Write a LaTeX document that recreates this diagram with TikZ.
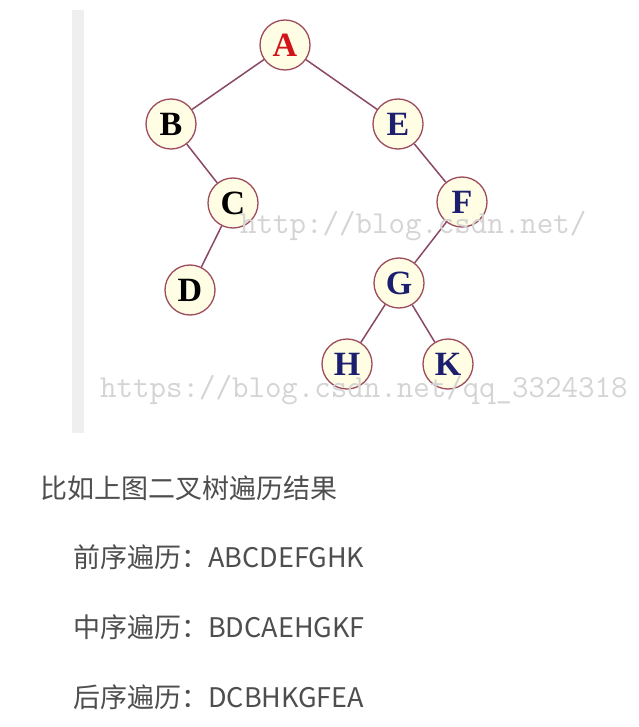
\documentclass[tikz,border=0pt]{standalone}
\usepackage{fontspec}
\newfontfamily\cjk{Noto Sans CJK SC}
\newfontfamily\treefont{Liberation Serif}

\definecolor{nodefill}{HTML}{FFFDE4}
\definecolor{nodeline}{HTML}{9C4A5C}
\definecolor{edgecol}{HTML}{8A4866}
\definecolor{navy}{HTML}{1C1F6E}
\definecolor{rootred}{HTML}{D0141A}
\definecolor{bodytext}{HTML}{4E4E4E}
\definecolor{barcol}{HTML}{EFEFEF}

\tikzset{
  treenode/.style={circle, draw=nodeline, line width=1.3pt, fill=nodefill,
    minimum size=50pt, inner sep=0pt,
    font=\treefont\bfseries\fontsize{34}{34}\selectfont},
  edge/.style={draw=edgecol, line width=1.5pt},
  watermark/.style={anchor=west, text=black!17,
    font=\ttfamily\fontsize{32}{32}\selectfont, inner sep=0pt},
  line/.style={anchor=west, text=bodytext, inner sep=0pt,
    font=\cjk\fontsize{27}{30}\selectfont}
}

\begin{document}
\begin{tikzpicture}[x=1pt, y=-1pt]
\useasboundingbox[fill=white] (0,0) rectangle (638,727);

% Quote bar
\fill[barcol] (72,10) rectangle (84,433);

% Tree nodes
\node[treenode, text=rootred] (A) at (285,45) {A};
\node[treenode] (B) at (171,124) {B};
\node[treenode] (C) at (233,203) {C};
\node[treenode] (D) at (190,290) {D};
\node[treenode, text=navy] (E) at (398,124) {E};
\node[treenode, text=navy] (F) at (462,202) {F};
\node[treenode, text=navy] (G) at (399,283) {G};
\node[treenode, text=navy] (H) at (347,364) {H};
\node[treenode, text=navy] (K) at (448,364) {K};

% Edges
\draw[edge] (A) -- (B);
\draw[edge] (A) -- (E);
\draw[edge] (B) -- (C);
\draw[edge] (C) -- (D);
\draw[edge] (E) -- (F);
\draw[edge] (F) -- (G);
\draw[edge] (G) -- (H);
\draw[edge] (G) -- (K);

% Watermarks, laid over the tree
\node[watermark] (wm1) at (240,226) {http://blog.csdn.net/};
\node[watermark] (wm2) at (100,390) {https://blog.csdn.net/qq\_3324318};

% Traversal results
\node[line] (title) at (40,488) {比如上图二叉树遍历结果};
\node[line] (pre) at (73,557) {前序遍历：ABCDEFGHK};
\node[line] (in) at (73,627) {中序遍历：BDCAEHGKF};
\node[line] (post) at (73,697) {后序遍历：DCBHKGFEA};

\end{tikzpicture}
\end{document}
